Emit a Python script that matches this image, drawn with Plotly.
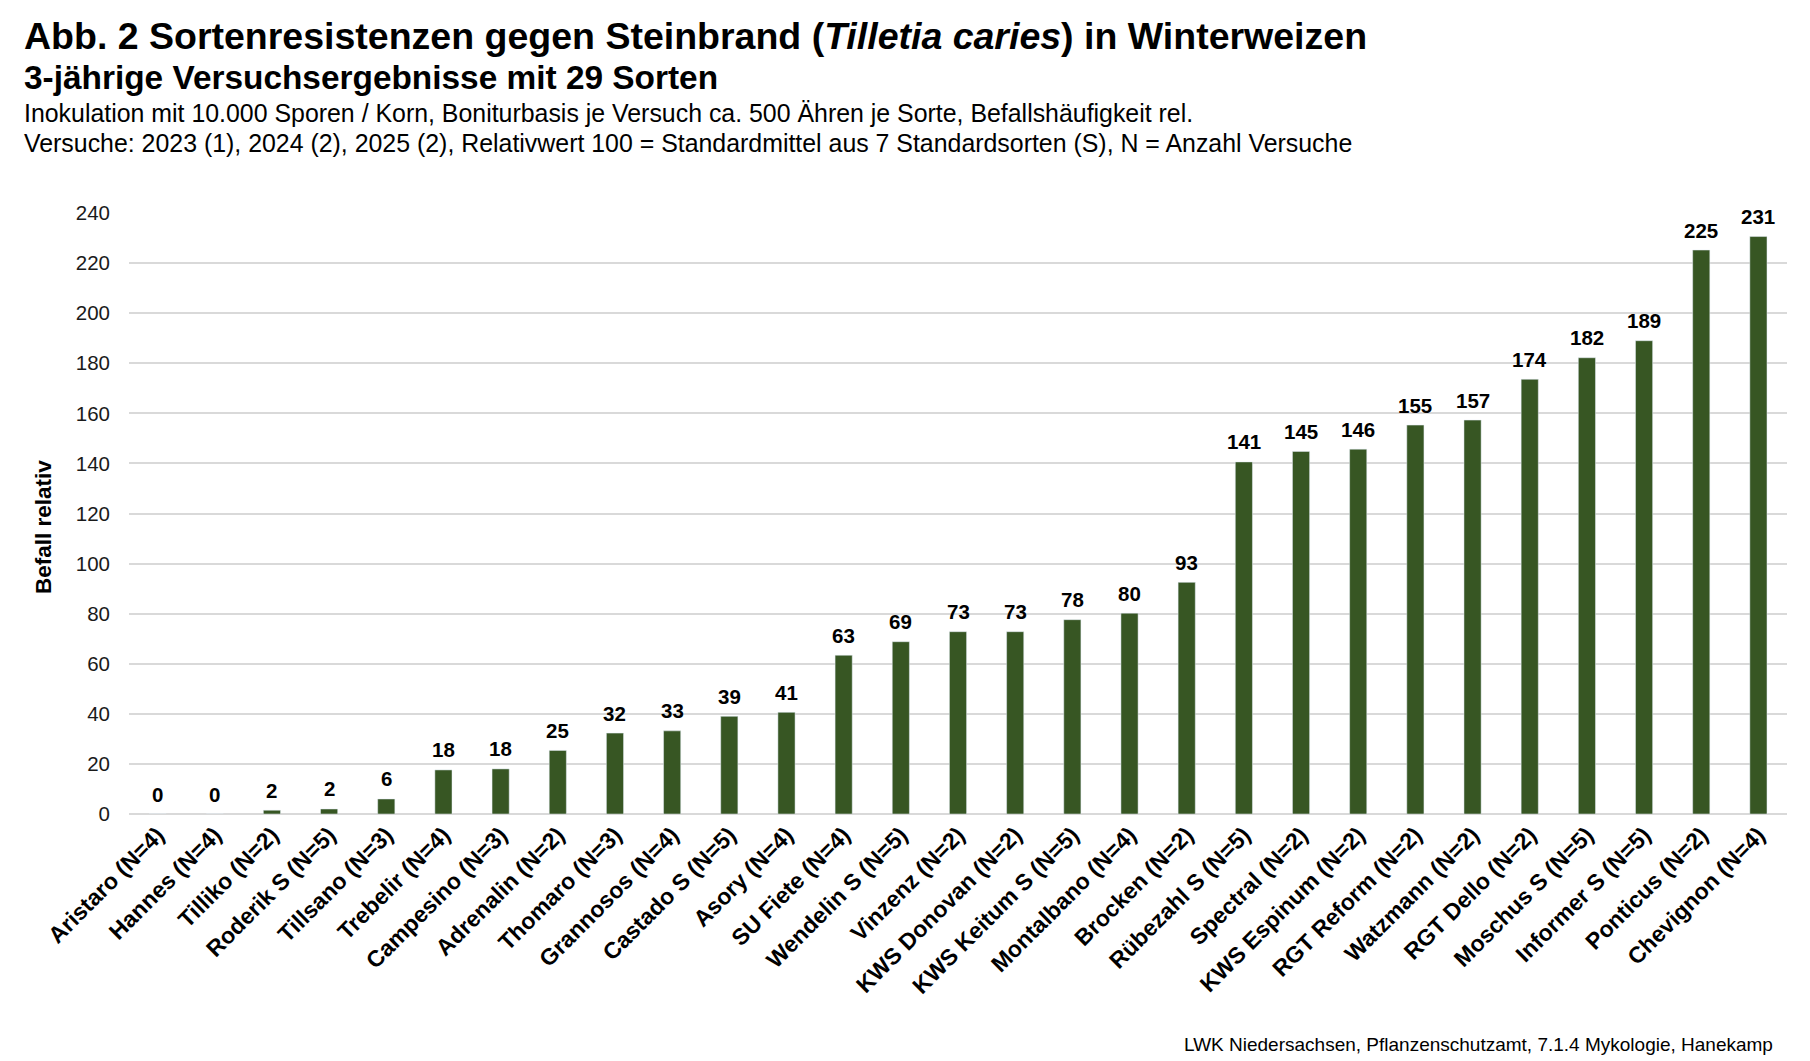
import plotly.graph_objects as go

sorten = ["Aristaro (N=4)", "Hannes (N=4)", "Tilliko (N=2)", "Roderik S (N=5)", "Tillsano (N=3)",
          "Trebelir (N=4)", "Campesino (N=3)", "Adrenalin (N=2)", "Thomaro (N=3)", "Grannosos (N=4)",
          "Castado S (N=5)", "Asory (N=4)", "SU Fiete (N=4)", "Wendelin S (N=5)", "Vinzenz (N=2)",
          "KWS Donovan (N=2)", "KWS Keitum S (N=5)", "Montalbano (N=4)", "Brocken (N=2)",
          "Rübezahl S (N=5)", "Spectral (N=2)", "KWS Espinum (N=2)", "RGT Reform (N=2)",
          "Watzmann (N=2)", "RGT Dello (N=2)", "Moschus S (N=5)", "Informer S (N=5)",
          "Ponticus (N=2)", "Chevignon (N=4)"]
befall = [0, 0, 1.5, 2, 6, 17.6, 18, 25.4, 32.3, 33.2, 39, 40.6, 63.4, 68.8, 72.8, 72.8, 77.6, 80.2,
          92.5, 140.6, 144.8, 145.7, 155.3, 157.3, 173.6, 182.2, 189, 225.2, 230.6]
labels = ["0", "0", "2", "2", "6", "18", "18", "25", "32", "33", "39", "41", "63", "69", "73", "73",
          "78", "80", "93", "141", "145", "146", "155", "157", "174", "182", "189", "225", "231"]
y_ticks = list(range(0, 241, 20))

FONT = "Liberation Sans, Arial, sans-serif"
W, H = 1810, 1061
L, R, T, B = 129, 1787, 213, 814


def py(pix):
    return (B - pix) / (B - T)


def px(pix):
    return (pix - L) / (R - L)


fig = go.Figure()
fig.add_trace(go.Bar(
    x=sorten, y=befall, marker_color="#375623", width=0.30,
    hoverinfo="x+y", cliponaxis=False,
))

annotations = []
for s, v, t in zip(sorten, befall, labels):
    annotations.append(dict(x=s, y=v, xref="x", yref="y", text=f"<b>{t}</b>", showarrow=False,
                            yshift=20, font=dict(family=FONT, size=20.5, color="#000000")))

texts = [
    ("<b>Abb. 2 Sortenresistenzen gegen Steinbrand (<i>Tilletia caries</i>) in Winterweizen</b>", 37.5, 36),
    ("<b>3-jährige Versuchsergebnisse mit 29 Sorten</b>", 33.4, 77),
    ("Inokulation mit 10.000 Sporen / Korn, Boniturbasis je Versuch ca. 500 Ähren je Sorte, Befallshäufigkeit rel.", 24.9, 113),
    ("Versuche: 2023 (1), 2024 (2), 2025 (2), Relativwert 100 = Standardmittel aus 7 Standardsorten (S), N = Anzahl Versuche", 24.9, 143),
]
for txt, size, yc in texts:
    annotations.append(dict(x=px(22), y=py(yc), xref="paper", yref="paper", xanchor="left",
                            yanchor="middle", text=txt, showarrow=False,
                            font=dict(family=FONT, size=size, color="#000000")))

annotations.append(dict(x=px(43), y=py(527), xref="paper", yref="paper", textangle=-90,
                        xanchor="center", yanchor="middle", text="<b>Befall relativ</b>",
                        showarrow=False, font=dict(family=FONT, size=22.5, color="#000000")))
annotations.append(dict(x=px(1775), y=py(1044), xref="paper", yref="paper", xanchor="right",
                        yanchor="middle", text="LWK Niedersachsen, Pflanzenschutzamt, 7.1.4 Mykologie, Hanekamp",
                        showarrow=False, font=dict(family=FONT, size=19, color="#000000")))

fig.update_layout(
    width=W, height=H, autosize=False,
    margin=dict(l=L, r=W - R, t=T, b=H - B, pad=0),
    paper_bgcolor="white", plot_bgcolor="white",
    showlegend=False,
    annotations=annotations,
    font=dict(family=FONT),
    xaxis=dict(
        type="category", categoryorder="array", categoryarray=sorten,
        range=[-0.5, len(sorten) - 0.5],
        tickangle=-45, tickfont=dict(family=FONT, size=23, color="#000000", weight="bold"),
        showgrid=False, showline=False, zeroline=False, ticks="", ticklabelstandoff=2,
    ),
    yaxis=dict(
        range=[0, 240], tickvals=y_ticks, ticktext=[str(v) for v in y_ticks],
        tickfont=dict(family=FONT, size=20.5, color="#1a1a1a"),
        showgrid=True, gridcolor="#d9d9d9", gridwidth=1.6,
        zeroline=True, zerolinecolor="#d9d9d9", zerolinewidth=1.6,
        showline=False, ticks="", ticklabelstandoff=18,
    ),
)

fig.write_html("out.html", config={"displayModeBar": False},
               post_script="document.body.style.margin='0';")
